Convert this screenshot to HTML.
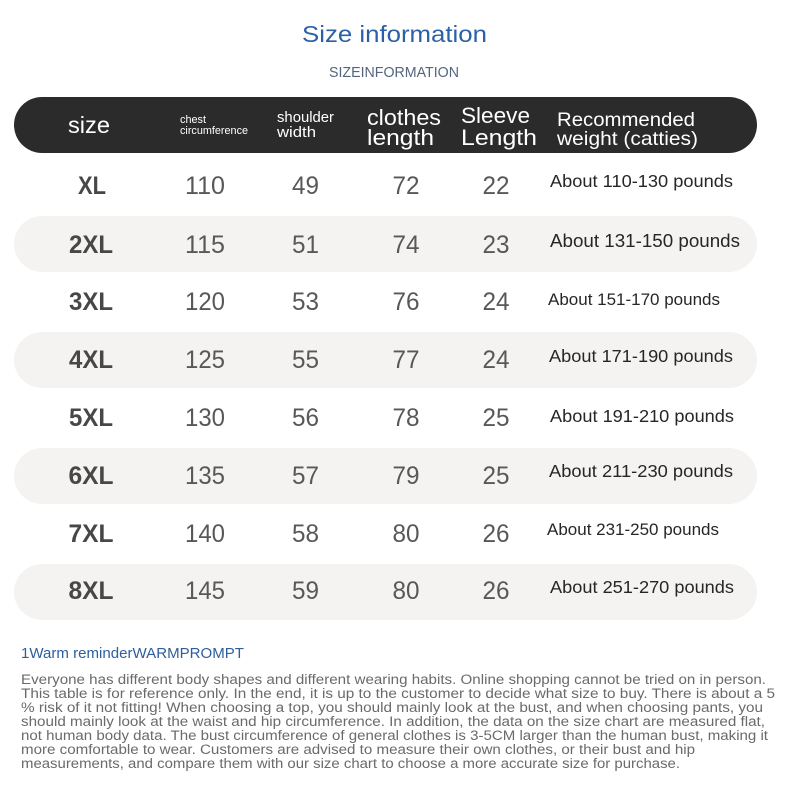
<!DOCTYPE html>
<html>
<head>
<meta charset="utf-8">
<style>
html,body{margin:0;padding:0;background:#fff;}
svg{display:block;}
text{font-family:"Liberation Sans","DejaVu Sans",sans-serif;}
</style>
</head>
<body>
<svg width="790" height="788" viewBox="0 0 790 788" xmlns="http://www.w3.org/2000/svg">
<rect width="790" height="788" fill="#ffffff"/>
<!-- Titles -->
<text x="302" y="42" font-size="23" fill="#2a61a6" textLength="185" lengthAdjust="spacingAndGlyphs">Size information</text>
<text x="329" y="77" font-size="14.5" fill="#55657e" textLength="130" lengthAdjust="spacingAndGlyphs">SIZEINFORMATION</text>

<!-- Header bar -->
<rect x="14" y="97" width="743" height="56" rx="28" ry="28" fill="#2b2b2b"/>
<g fill="#ffffff">
<text x="68" y="133" font-size="23" textLength="42" lengthAdjust="spacingAndGlyphs">size</text>
<text x="180" y="123" font-size="11" textLength="26" lengthAdjust="spacingAndGlyphs">chest</text>
<text x="180" y="134" font-size="11" textLength="68" lengthAdjust="spacingAndGlyphs">circumference</text>
<text x="277" y="122" font-size="15" textLength="57" lengthAdjust="spacingAndGlyphs">shoulder</text>
<text x="277" y="137" font-size="15" textLength="39" lengthAdjust="spacingAndGlyphs">width</text>
<text x="367" y="125" font-size="22" textLength="74" lengthAdjust="spacingAndGlyphs">clothes</text>
<text x="367" y="145" font-size="22" textLength="67" lengthAdjust="spacingAndGlyphs">length</text>
<text x="461" y="123" font-size="22" textLength="69" lengthAdjust="spacingAndGlyphs">Sleeve</text>
<text x="461" y="145" font-size="22" textLength="76" lengthAdjust="spacingAndGlyphs">Length</text>
<text x="557" y="126" font-size="19.5" textLength="138" lengthAdjust="spacingAndGlyphs">Recommended</text>
<text x="557" y="145" font-size="19.5" textLength="141" lengthAdjust="spacingAndGlyphs">weight (catties)</text>
</g>

<!-- Gray row bands -->
<g fill="#f4f3f1">
<rect x="14" y="216" width="743" height="56" rx="28" ry="28"/>
<rect x="14" y="332" width="743" height="56" rx="28" ry="28"/>
<rect x="14" y="448" width="743" height="56" rx="28" ry="28"/>
<rect x="14" y="564" width="743" height="56" rx="28" ry="28"/>
</g>

<!-- Size labels -->
<g fill="#474747" font-weight="bold" font-size="25" text-anchor="middle">
<text x="92" y="194" textLength="28" lengthAdjust="spacingAndGlyphs">XL</text>
<text x="91" y="253" textLength="44" lengthAdjust="spacingAndGlyphs">2XL</text>
<text x="91" y="310" textLength="44" lengthAdjust="spacingAndGlyphs">3XL</text>
<text x="91" y="368" textLength="44" lengthAdjust="spacingAndGlyphs">4XL</text>
<text x="91" y="426" textLength="44" lengthAdjust="spacingAndGlyphs">5XL</text>
<text x="91" y="484" textLength="45" lengthAdjust="spacingAndGlyphs">6XL</text>
<text x="91" y="542" textLength="45" lengthAdjust="spacingAndGlyphs">7XL</text>
<text x="91" y="599" textLength="45" lengthAdjust="spacingAndGlyphs">8XL</text>
</g>

<!-- Numbers -->
<g fill="#585858" font-size="25" text-anchor="middle">
<text x="205" y="194" textLength="40" lengthAdjust="spacingAndGlyphs">110</text>
<text x="305.5" y="194" textLength="27" lengthAdjust="spacingAndGlyphs">49</text>
<text x="406" y="194" textLength="27" lengthAdjust="spacingAndGlyphs">72</text>
<text x="496" y="194" textLength="27" lengthAdjust="spacingAndGlyphs">22</text>

<text x="205" y="253" textLength="40" lengthAdjust="spacingAndGlyphs">115</text>
<text x="305.5" y="253" textLength="27" lengthAdjust="spacingAndGlyphs">51</text>
<text x="406" y="253" textLength="27" lengthAdjust="spacingAndGlyphs">74</text>
<text x="496" y="253" textLength="27" lengthAdjust="spacingAndGlyphs">23</text>

<text x="205" y="310" textLength="40" lengthAdjust="spacingAndGlyphs">120</text>
<text x="305.5" y="310" textLength="27" lengthAdjust="spacingAndGlyphs">53</text>
<text x="406" y="310" textLength="27" lengthAdjust="spacingAndGlyphs">76</text>
<text x="496" y="310" textLength="27" lengthAdjust="spacingAndGlyphs">24</text>

<text x="205" y="368" textLength="40" lengthAdjust="spacingAndGlyphs">125</text>
<text x="305.5" y="368" textLength="27" lengthAdjust="spacingAndGlyphs">55</text>
<text x="406" y="368" textLength="27" lengthAdjust="spacingAndGlyphs">77</text>
<text x="496" y="368" textLength="27" lengthAdjust="spacingAndGlyphs">24</text>

<text x="205" y="426" textLength="40" lengthAdjust="spacingAndGlyphs">130</text>
<text x="305.5" y="426" textLength="27" lengthAdjust="spacingAndGlyphs">56</text>
<text x="406" y="426" textLength="27" lengthAdjust="spacingAndGlyphs">78</text>
<text x="496" y="426" textLength="27" lengthAdjust="spacingAndGlyphs">25</text>

<text x="205" y="484" textLength="40" lengthAdjust="spacingAndGlyphs">135</text>
<text x="305.5" y="484" textLength="27" lengthAdjust="spacingAndGlyphs">57</text>
<text x="406" y="484" textLength="27" lengthAdjust="spacingAndGlyphs">79</text>
<text x="496" y="484" textLength="27" lengthAdjust="spacingAndGlyphs">25</text>

<text x="205" y="542" textLength="40" lengthAdjust="spacingAndGlyphs">140</text>
<text x="305.5" y="542" textLength="27" lengthAdjust="spacingAndGlyphs">58</text>
<text x="406" y="542" textLength="27" lengthAdjust="spacingAndGlyphs">80</text>
<text x="496" y="542" textLength="27" lengthAdjust="spacingAndGlyphs">26</text>

<text x="205" y="599" textLength="40" lengthAdjust="spacingAndGlyphs">145</text>
<text x="305.5" y="599" textLength="27" lengthAdjust="spacingAndGlyphs">59</text>
<text x="406" y="599" textLength="27" lengthAdjust="spacingAndGlyphs">80</text>
<text x="496" y="599" textLength="27" lengthAdjust="spacingAndGlyphs">26</text>
</g>

<!-- Weights -->
<g fill="#262626" font-size="17.5">
<text x="550" y="187" textLength="183" lengthAdjust="spacingAndGlyphs">About 110-130 pounds</text>
<text x="550" y="247" font-size="18.5" textLength="190" lengthAdjust="spacingAndGlyphs">About 131-150 pounds</text>
<text x="548" y="305" font-size="17" textLength="172" lengthAdjust="spacingAndGlyphs">About 151-170 pounds</text>
<text x="549" y="362" textLength="184" lengthAdjust="spacingAndGlyphs">About 171-190 pounds</text>
<text x="550" y="422" textLength="184" lengthAdjust="spacingAndGlyphs">About 191-210 pounds</text>
<text x="549" y="477" textLength="184" lengthAdjust="spacingAndGlyphs">About 211-230 pounds</text>
<text x="547" y="535" font-size="17" textLength="172" lengthAdjust="spacingAndGlyphs">About 231-250 pounds</text>
<text x="550" y="593" textLength="184" lengthAdjust="spacingAndGlyphs">About 251-270 pounds</text>
</g>

<!-- Warm reminder -->
<text x="21" y="658" font-size="15" fill="#2d5e9e" textLength="223" lengthAdjust="spacingAndGlyphs">1Warm reminderWARMPROMPT</text>
<g fill="#6a6a6a" font-size="13.5">
<text x="21" y="684" textLength="745" lengthAdjust="spacingAndGlyphs">Everyone has different body shapes and different wearing habits. Online shopping cannot be tried on in person.</text>
<text x="21" y="698" textLength="754" lengthAdjust="spacingAndGlyphs">This table is for reference only. In the end, it is up to the customer to decide what size to buy. There is about a 5</text>
<text x="21" y="712" textLength="742" lengthAdjust="spacingAndGlyphs">% risk of it not fitting! When choosing a top, you should mainly look at the bust, and when choosing pants, you</text>
<text x="21" y="726" textLength="744" lengthAdjust="spacingAndGlyphs">should mainly look at the waist and hip circumference. In addition, the data on the size chart are measured flat,</text>
<text x="21" y="740" textLength="747" lengthAdjust="spacingAndGlyphs">not human body data. The bust circumference of general clothes is 3-5CM larger than the human bust, making it</text>
<text x="21" y="754" textLength="674" lengthAdjust="spacingAndGlyphs">more comfortable to wear. Customers are advised to measure their own clothes, or their bust and hip</text>
<text x="21" y="768" textLength="659" lengthAdjust="spacingAndGlyphs">measurements, and compare them with our size chart to choose a more accurate size for purchase.</text>
</g>
</svg>
</body>
</html>
